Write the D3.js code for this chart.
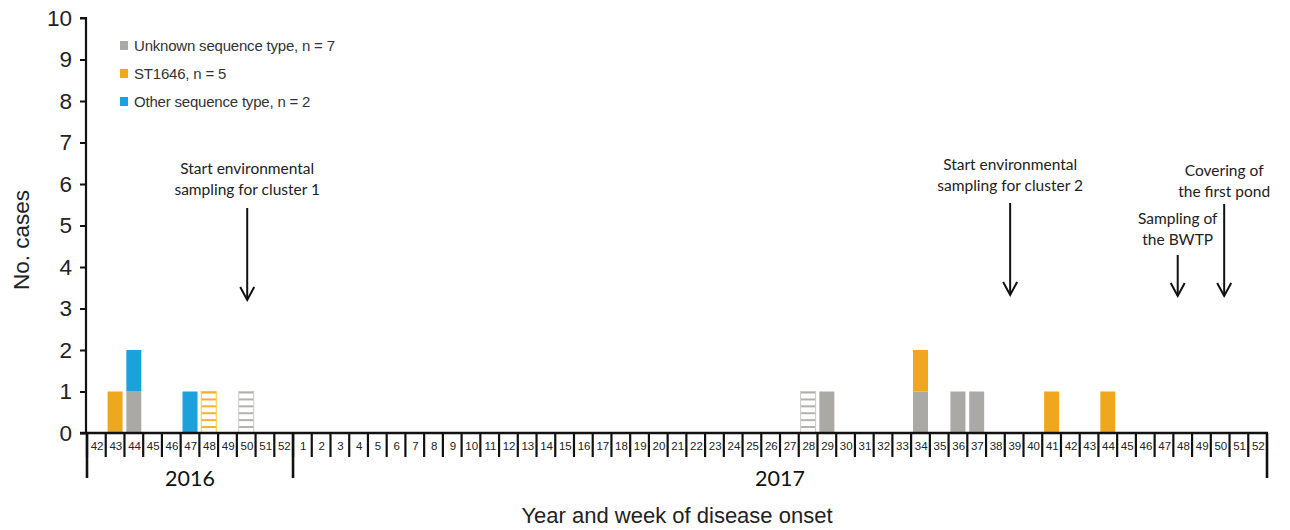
<!DOCTYPE html>
<html>
<head>
<meta charset="utf-8">
<script src="https://cdn.jsdelivr.net/npm/d3@7"></script>
<style>
  html, body { margin: 0; padding: 0; background: #fff; }
  svg { display: block; }
</style>
</head>
<body>
<svg id="chart" width="1290" height="530"></svg>
<script>
// ---------------- data ----------------
const weeks2016 = [42, 43, 44, 45, 46, 47, 48, 49, 50, 51, 52];
const weeks2017 = [1, 2, 3, 4, 5, 6, 7, 8, 9, 10, 11, 12, 13, 14, 15, 16, 17, 18, 19, 20, 21, 22, 23, 24, 25, 26,
  27, 28, 29, 30, 31, 32, 33, 34, 35, 36, 37, 38, 39, 40, 41, 42, 43, 44, 45, 46, 47, 48, 49, 50, 51, 52];
const yTicks = [0, 1, 2, 3, 4, 5, 6, 7, 8, 9, 10];

const seriesNames = ["Unknown sequence type, n = 7", "ST1646, n = 5", "Other sequence type, n = 2"];
const seriesKeys = ["unknown", "st1646", "other"];
const seriesColors = ["#aaa9a6", "#efa81e", "#1ba1db"];

// cases per week [category, count]
const unknownCases = [["2016-44", 1], ["2016-50", 1], ["2017-28", 1], ["2017-29", 1], ["2017-34", 1], ["2017-36", 1], ["2017-37", 1]];
const st1646Cases = [["2016-43", 1], ["2016-48", 1], ["2017-34", 1], ["2017-41", 1], ["2017-44", 1]];
const otherCases = [["2016-44", 1], ["2016-47", 1]];
// cases drawn with striped (unconfirmed) fill
const stripedCases = ["2016-48", "2016-50", "2017-28"];

const annotations = [
  { cat: "2016-50", lines: ["Start environmental", "sampling for cluster 1"] },
  { cat: "2017-39", lines: ["Start environmental", "sampling for cluster 2"] },
  { cat: "2017-48", lines: ["Sampling of", "the BWTP"] },
  { cat: "2017-50", lines: ["Covering of", "the first pond"] }
];

// ---------------- layout ----------------
const svg = d3.select("#chart");
const mLeft = 86, mRight = 1267, mTop = 18, mBase = 433;
const categories = weeks2016.map(w => "2016-" + w).concat(weeks2017.map(w => "2017-" + w));
const x = d3.scaleBand().domain(categories).range([mLeft + 1, mRight]).padding(0);
const y = d3.scaleLinear().domain([0, 10]).range([mBase, mTop]);

// stacked data
const table = categories.map(c => {
  const row = { cat: c };
  row.unknown = (unknownCases.find(d => d[0] === c) || [c, 0])[1];
  row.st1646 = (st1646Cases.find(d => d[0] === c) || [c, 0])[1];
  row.other = (otherCases.find(d => d[0] === c) || [c, 0])[1];
  return row;
});
const stacked = d3.stack().keys(seriesKeys)(table);

// patterns
const defs = svg.append("defs");
seriesKeys.forEach((k, i) => {
  const p = defs.append("pattern").attr("id", "stripe-" + k)
    .attr("patternUnits", "userSpaceOnUse").attr("width", 8).attr("height", 6.9)
    .attr("y", mBase);
  p.append("rect").attr("width", 8).attr("height", 6.9).attr("fill", "#fff");
  p.append("rect").attr("y", 0).attr("width", 8).attr("height", 1.8).attr("fill", seriesColors[i]);
});

// bars
const inset = 0.1;
stacked.forEach((layer, i) => {
  const key = seriesKeys[i];
  svg.append("g").selectAll("rect")
    .data(layer.filter(d => d[1] - d[0] > 0))
    .join("rect")
    .attr("x", d => x(d.data.cat) + x.bandwidth() * inset)
    .attr("width", x.bandwidth() * (1 - 2 * inset))
    .attr("y", d => y(d[1]))
    .attr("height", d => y(d[0]) - y(d[1]))
    .attr("fill", d => stripedCases.includes(d.data.cat) ? "url(#stripe-" + key + ")" : seriesColors[i])
    .attr("stroke", d => stripedCases.includes(d.data.cat) ? d3.color(seriesColors[i]).brighter(0.5) : "none")
    .attr("stroke-width", 1);
});

// y axis
const yAxis = d3.axisLeft(y).tickValues(yTicks).tickSize(6).tickPadding(8);
const gy = svg.append("g").attr("transform", `translate(${mLeft},0)`).call(yAxis);
gy.select(".domain").attr("stroke", "#111").attr("stroke-width", 2.2).attr("d", `M-6,${mTop}H0V${mBase}`);
gy.selectAll(".tick line").attr("stroke", "#111").attr("stroke-width", 2);
gy.selectAll(".tick text").attr("font-family", "Liberation Sans, Arial, sans-serif")
  .attr("font-size", 22.5).attr("fill", "#222");

// x axis baseline
svg.append("line").attr("x1", mLeft - 6).attr("x2", mRight + 1).attr("y1", mBase).attr("y2", mBase)
  .attr("stroke", "#111").attr("stroke-width", 2.4);

// week cells
const cellBottom = 457;
const gx = svg.append("g");
categories.forEach((c, i) => {
  const xl = x(c);
  gx.append("line").attr("x1", xl).attr("x2", xl).attr("y1", mBase).attr("y2", cellBottom)
    .attr("stroke", "#111").attr("stroke-width", 2.2);
  gx.append("text").attr("x", xl + x.bandwidth() / 2 + 0.7).attr("y", 450)
    .attr("text-anchor", "middle").attr("font-family", "Liberation Sans, Arial, sans-serif")
    .attr("font-size", 11.5).attr("fill", "#222").text(c.split("-")[1]);
});
// long separators: start, year change, end
[["2016-42", "start"], ["2017-1", "start"], ["2017-52", "end"]].forEach(([c, side]) => {
  const xx = side === "start" ? x(c) : x(c) + x.bandwidth();
  svg.append("line").attr("x1", xx).attr("x2", xx).attr("y1", mBase).attr("y2", 478)
    .attr("stroke", "#111").attr("stroke-width", 2.6);
});

// year labels
const yearSpan = (a, b) => (x(a) + x(b) + x.bandwidth()) / 2;
svg.append("text").attr("x", yearSpan("2016-42", "2016-52")).attr("y", 486)
  .attr("text-anchor", "middle").attr("font-family", "Lato, sans-serif").attr("font-size", 21.5)
  .attr("fill", "#111").text("2016");
svg.append("text").attr("x", yearSpan("2017-1", "2017-52")).attr("y", 486)
  .attr("text-anchor", "middle").attr("font-family", "Lato, sans-serif").attr("font-size", 21.5)
  .attr("fill", "#111").text("2017");

// axis titles
svg.append("text").attr("x", 677).attr("y", 523).attr("text-anchor", "middle")
  .attr("font-family", "Liberation Sans, Arial, sans-serif").attr("font-size", 22).attr("fill", "#222")
  .text("Year and week of disease onset");
svg.append("text").attr("transform", "translate(29,240) rotate(-90)").attr("text-anchor", "middle")
  .attr("font-family", "Liberation Sans, Arial, sans-serif").attr("font-size", 22.5).attr("fill", "#222")
  .text("No. cases");

// legend
const lg = svg.append("g");
seriesNames.forEach((n, i) => {
  const ly = 46 + i * 28;
  lg.append("rect").attr("x", 120).attr("y", ly - 5).attr("width", 8).attr("height", 9).attr("fill", seriesColors[i]);
  lg.append("text").attr("x", 134).attr("y", ly + 5).attr("font-family", "Liberation Sans, Arial, sans-serif")
    .attr("font-size", 15).attr("fill", "#333").attr("letter-spacing", -0.2).text(n);
});

// annotations
const annLayout = {
  "2016-50": { textY: 174, arrowTop: 208, arrowBottom: 300, dx: 1 },
  "2017-39": { textY: 170, arrowTop: 203, arrowBottom: 295, dx: -4 },
  "2017-48": { textY: 224, arrowTop: 255, arrowBottom: 296, dx: -5 },
  "2017-50": { textY: 176, arrowTop: 204, arrowBottom: 296, dx: 4 }
};
annotations.forEach(a => {
  const L = annLayout[a.cat];
  const cx = x(a.cat) + x.bandwidth() / 2 + L.dx;
  const g = svg.append("g");
  a.lines.forEach((t, j) => {
    g.append("text").attr("x", cx).attr("y", L.textY + j * 21).attr("text-anchor", "middle")
      .attr("font-family", "Lato, sans-serif").attr("font-size", 15.5).attr("fill", "#222").text(t);
  });
  g.append("line").attr("x1", cx).attr("x2", cx).attr("y1", L.arrowTop).attr("y2", L.arrowBottom)
    .attr("stroke", "#111").attr("stroke-width", 2);
  g.append("path").attr("d", `M${cx - 7},${L.arrowBottom - 13}L${cx},${L.arrowBottom}L${cx + 7},${L.arrowBottom - 13}`)
    .attr("fill", "none").attr("stroke", "#111").attr("stroke-width", 2);
});
</script>
</body>
</html>
